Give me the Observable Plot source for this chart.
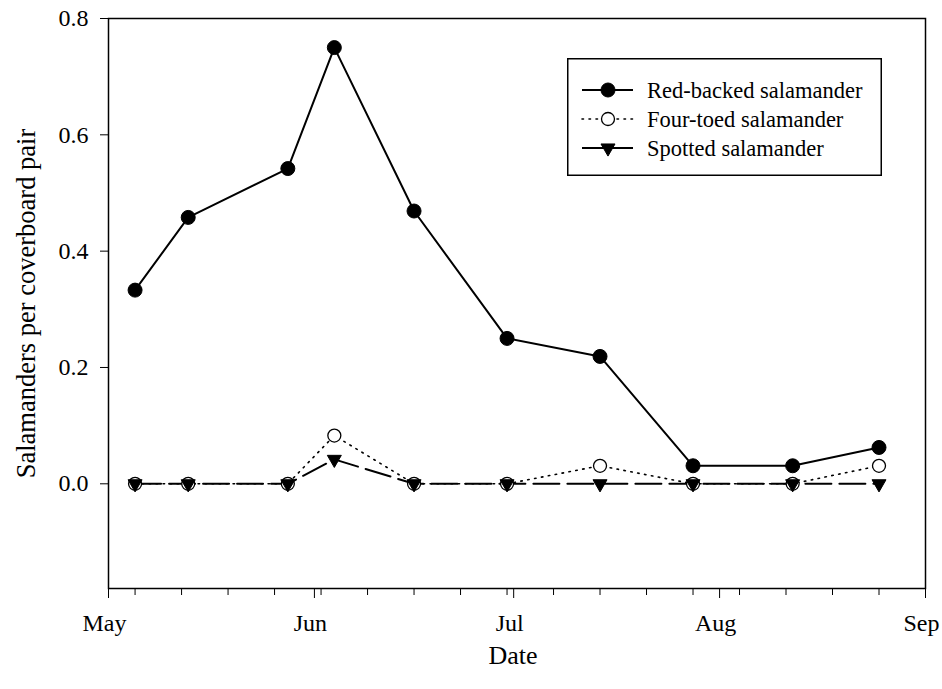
<!DOCTYPE html>
<html>
<head>
<meta charset="utf-8">
<script src="https://cdn.jsdelivr.net/npm/d3@7"></script>
<script src="https://cdn.jsdelivr.net/npm/@observablehq/plot@0.6"></script>
<style>
  html, body { margin: 0; padding: 0; background: #fff; }
  #wrap { position: relative; width: 942px; height: 689px; }
  #legend { position: absolute; }
</style>
</head>
<body>
<div id="wrap"></div>
<script>
// ---- Data ----
const sampleDates = ["2000-05-05","2000-05-13","2000-05-28","2000-06-04","2000-06-16","2000-06-30","2000-07-14","2000-07-28","2000-08-12","2000-08-25"];
const redBacked  = [0.333, 0.458, 0.542, 0.750, 0.469, 0.250, 0.219, 0.031, 0.031, 0.0625];
const fourToed   = [0, 0, 0, 0.083, 0, 0, 0.031, 0, 0, 0.031];
const spotted    = [0, 0, 0, 0.042, 0, 0, 0, 0, 0, 0];
const seriesNames = ["Red-backed salamander", "Four-toed salamander", "Spotted salamander"];
const yTicks = [0, 0.2, 0.4, 0.6, 0.8];
const monthTicks = ["2000-05-01","2000-06-01","2000-07-01","2000-08-01","2000-09-01"];
const xDomain = ["2000-05-01", "2000-09-01"];
const yDomain = [-0.18, 0.8];

const parse = d3.utcParse("%Y-%m-%d");
const dates = sampleDates.map(parse);
const months = monthTicks.map(parse);
const minorTicks = d3.utcDay.range(parse("2000-05-05"), parse("2000-09-01"), 7);

const mk = (vals) => dates.map((d, i) => ({date: d, value: vals[i]}));
const rb = mk(redBacked), ft = mk(fourToed), sp = mk(spotted);

const styles = [
  {dash: null, symbol: "circle", fill: "black", rotate: 0, r: 7},
  {dash: "1.5,5.5", symbol: "circle", fill: "white", rotate: 0, r: 6.5},
  {dash: "26,8", symbol: "triangle", fill: "black", rotate: 180, r: 5.2}
];

const font = "'Liberation Serif', 'Times New Roman', serif";

const chart = Plot.plot({
  width: 942,
  height: 689,
  marginLeft: 108,
  marginRight: 17,
  marginTop: 18,
  marginBottom: 101,
  style: {fontFamily: font, fontSize: "24px", color: "black", background: "white"},
  x: {type: "utc", domain: xDomain.map(parse)},
  y: {domain: yDomain},
  marks: [
    Plot.frame({stroke: "black", strokeWidth: 1.5}),
    Plot.axisY({ticks: yTicks, tickFormat: d3.format(".1f"), tickSize: 8, tickPadding: 12, label: null, fontSize: 24}),
    Plot.axisX({ticks: months, tickFormat: () => "", tickSize: 10, label: null}),
    Plot.axisX({ticks: months, tickFormat: d3.utcFormat("%b"), tickSize: 0, tickPadding: 25, dx: -4, label: null, fontSize: 24}),
    Plot.axisX({ticks: minorTicks, tickFormat: () => "", tickSize: 7, label: null}),
    Plot.text(["Salamanders per coverboard pair"], {text: d => d, frameAnchor: "left", textAnchor: "middle", lineAnchor: "middle", rotate: -90, dx: -82, fontSize: 26.5}),
    Plot.text(["Date"], {text: d => d, frameAnchor: "bottom", textAnchor: "middle", lineAnchor: "middle", dx: -4, dy: 67, fontSize: 26}),
    Plot.line(sp, {x: "date", y: "value", stroke: "black", strokeWidth: 2, strokeDasharray: styles[2].dash}),
    Plot.line(ft, {x: "date", y: "value", stroke: "black", strokeWidth: 1.6, strokeDasharray: styles[1].dash, strokeLinecap: "round"}),
    Plot.line(rb, {x: "date", y: "value", stroke: "black", strokeWidth: 2}),
    Plot.dot(rb, {x: "date", y: "value", symbol: "circle", r: styles[0].r, fill: "black", stroke: "black", strokeWidth: 1}),
    Plot.dot(ft, {x: "date", y: "value", symbol: "circle", r: styles[1].r, fill: "white", stroke: "black", strokeWidth: 1.3}),
    Plot.dot(sp, {x: "date", y: "value", symbol: "triangle", rotate: 180, r: styles[2].r, fill: "black", stroke: "black", strokeWidth: 1})
  ]
});

const wrap = document.getElementById("wrap");
wrap.appendChild(chart);

// ---- Legend (overlay box inside the plot area) ----
const lw = 315, lh = 118;
const legend = d3.select(wrap).append("svg")
  .attr("id", "legend")
  .attr("width", lw).attr("height", lh)
  .style("left", "567px").style("top", "58px")
  .style("font-family", font).style("font-size", "22.5px");
legend.append("rect").attr("x", 0.75).attr("y", 0.75).attr("width", lw - 1.5).attr("height", lh - 1.5)
  .attr("fill", "white").attr("stroke", "black").attr("stroke-width", 1.5);
const rowY = [32, 61, 90];
seriesNames.forEach((name, i) => {
  const g = legend.append("g").attr("transform", `translate(0,${rowY[i]})`);
  const s = styles[i];
  g.append("line").attr("x1", 15).attr("x2", 66).attr("y1", 0).attr("y2", 0)
    .attr("stroke", "black").attr("stroke-width", i === 1 ? 1.6 : 2)
    .attr("stroke-linecap", i === 1 ? "round" : "butt")
    .attr("stroke-dasharray", i === 2 ? null : s.dash);
  const sym = d3.symbol(s.symbol === "circle" ? d3.symbolCircle : d3.symbolTriangle, Math.PI * s.r * s.r);
  g.append("path").attr("d", sym()).attr("transform", `translate(41,0) rotate(${s.rotate})`)
    .attr("fill", s.fill).attr("stroke", "black").attr("stroke-width", i === 1 ? 1.3 : 1);
  g.append("text").attr("x", 80).attr("y", 0).attr("dy", "0.35em").text(name);
});
</script>
</body>
</html>
